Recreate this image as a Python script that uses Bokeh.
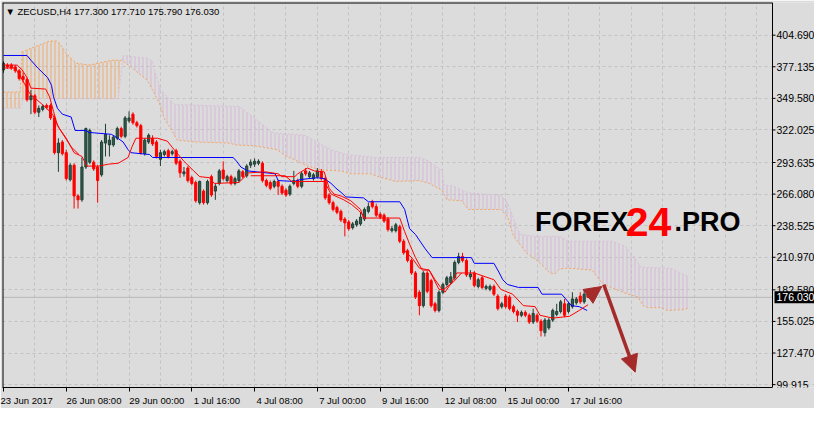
from bokeh.plotting import figure
from bokeh.models import FixedTicker, Label, Arrow, NormalHead, Range1d, ColumnDataSource
from bokeh.core.properties import value
from bokeh.embed import file_html
from bokeh.resources import INLINE

# ---------------- data ----------------
symbol_title = "\u25BC ZECUSD,H4  177.300 177.710 175.790 176.030"
last_price = 176.03
last_price_text = "176.030"

opens = [374.4, 378.6, 378.6, 377.0, 373.6, 368.6, 366.1, 348.4, 351.8, 337.5,
         340.0, 343.4, 343.4, 332.5, 302.2, 311.5, 302.2, 278.7, 291.3, 264.5,
         261.1, 289.7, 293.9, 293.9, 289.7, 282.9, 310.6, 309.0, 309.0, 314.8,
         323.2, 316.5, 330.0, 335.8, 328.3, 325.8, 301.4, 311.5, 314.8, 311.5,
         296.4, 300.6, 303.9, 301.4, 303.9, 294.7, 283.8, 288.8, 280.4, 276.2,
         258.6, 268.7, 258.6, 281.3, 268.7, 275.4, 287.1, 277.9, 281.3, 275.4,
         277.9, 285.5, 282.1, 291.3, 292.2, 293.0, 293.0, 277.9, 276.2, 272.9,
         277.1, 272.9, 269.5, 266.1, 275.4, 277.9, 272.9, 286.3, 281.3, 279.6,
         281.3, 285.5, 279.6, 265.3, 258.6, 254.4, 251.0, 244.3, 241.8, 236.8,
         239.3, 240.1, 244.3, 251.0, 259.4, 255.2, 248.5, 247.7, 244.3, 234.2,
         234.2, 237.6, 225.0, 216.6, 208.2, 197.3, 180.5, 168.8, 197.3, 190.6,
         170.4, 164.6, 180.5, 187.2, 188.9, 193.1, 206.5, 211.6, 208.2, 193.9,
         197.3, 185.5, 193.1, 183.9, 183.0, 185.5, 177.1, 167.9, 177.1, 176.3,
         167.9, 163.7, 160.4, 162.9, 160.4, 154.5, 160.4, 155.3, 145.2, 149.4,
         156.2, 161.2, 163.7, 170.4, 163.7, 167.9, 171.3, 177.1, 172.1, 177.3]
highs = [382.0, 380.3, 380.3, 378.6, 375.3, 371.9, 367.7, 356.8, 353.5, 343.4,
         344.2, 345.1, 345.1, 334.2, 314.8, 313.2, 304.8, 293.0, 293.0, 266.1,
         298.0, 324.1, 323.2, 295.5, 291.3, 313.2, 327.4, 317.4, 317.4, 324.9,
         324.9, 334.2, 338.3, 337.5, 330.0, 327.4, 314.8, 319.0, 317.4, 313.2,
         304.8, 304.8, 305.6, 304.8, 305.6, 296.4, 289.7, 290.5, 282.1, 277.9,
         277.9, 270.3, 278.7, 283.0, 275.4, 288.0, 294.7, 283.0, 283.0, 281.3,
         288.0, 287.1, 292.2, 296.4, 297.2, 296.4, 294.7, 279.6, 277.9, 278.7,
         278.7, 274.5, 271.2, 274.5, 286.3, 279.6, 285.5, 288.8, 286.3, 284.6,
         288.8, 288.0, 281.3, 267.0, 260.3, 256.1, 252.7, 246.0, 243.5, 241.8,
         244.3, 250.2, 254.4, 258.6, 261.1, 257.7, 250.2, 249.3, 246.0, 238.4,
         241.0, 239.3, 226.7, 218.3, 209.9, 198.9, 182.2, 198.9, 198.9, 192.2,
         172.1, 182.2, 188.9, 194.8, 198.1, 208.2, 214.9, 214.9, 209.9, 199.8,
         198.9, 193.1, 194.8, 187.2, 187.2, 187.2, 178.8, 172.1, 178.8, 178.0,
         169.6, 165.4, 164.6, 164.6, 162.0, 166.2, 162.0, 157.0, 157.9, 157.9,
         166.2, 170.4, 173.8, 174.6, 172.1, 180.5, 176.3, 180.5, 182.2, 177.71]
lows = [371.9, 375.3, 374.4, 371.9, 365.2, 363.5, 346.7, 335.8, 335.8, 333.3,
        338.3, 340.0, 330.8, 300.6, 285.5, 299.7, 277.9, 277.1, 253.5, 253.5,
        259.4, 288.0, 292.2, 286.3, 258.6, 281.3, 298.9, 298.9, 307.3, 313.2,
        314.8, 314.8, 328.3, 326.6, 324.1, 300.6, 299.7, 309.8, 308.1, 297.2,
        290.5, 298.9, 297.2, 299.7, 291.3, 280.4, 281.3, 276.2, 273.7, 258.6,
        256.9, 256.9, 256.9, 263.6, 261.1, 273.7, 277.9, 276.2, 273.7, 273.7,
        276.2, 279.6, 280.4, 288.8, 289.7, 291.3, 276.2, 272.0, 269.5, 271.2,
        265.3, 265.3, 263.6, 264.5, 273.7, 271.2, 271.2, 282.1, 279.6, 277.9,
        279.6, 277.9, 261.1, 256.9, 251.0, 248.5, 241.8, 229.2, 234.2, 235.1,
        237.6, 238.4, 242.6, 249.3, 253.5, 246.0, 244.3, 241.0, 233.4, 232.6,
        232.6, 223.3, 213.2, 206.5, 195.6, 174.6, 160.4, 167.1, 179.6, 167.1,
        162.9, 162.9, 178.8, 185.5, 187.2, 191.4, 204.9, 206.5, 193.9, 191.4,
        184.7, 183.9, 183.0, 182.2, 181.3, 177.1, 164.6, 166.2, 166.2, 164.6,
        162.0, 154.5, 158.7, 158.7, 152.8, 152.8, 153.6, 141.9, 141.9, 147.7,
        154.5, 159.5, 162.0, 158.7, 162.0, 166.2, 169.6, 170.4, 170.4, 175.79]
closes = [380.3, 377.0, 376.1, 373.6, 366.9, 366.1, 348.4, 351.8, 337.5, 340.9,
          342.5, 341.7, 332.5, 302.2, 310.6, 301.4, 279.6, 291.3, 264.5, 261.1,
          289.7, 323.2, 321.6, 288.0, 277.9, 311.5, 318.2, 313.2, 315.7, 323.2,
          316.5, 332.5, 332.5, 328.3, 325.8, 302.2, 313.2, 317.4, 309.8, 298.9,
          302.2, 303.1, 298.9, 303.1, 293.0, 284.6, 285.5, 277.9, 275.4, 260.3,
          277.1, 258.6, 277.1, 265.3, 272.9, 286.3, 279.6, 281.3, 275.4, 279.6,
          286.3, 281.3, 290.5, 293.9, 294.7, 294.7, 277.9, 273.7, 271.2, 277.1,
          272.9, 267.0, 265.3, 272.9, 277.9, 272.9, 283.8, 283.8, 284.6, 282.9,
          286.3, 279.6, 262.8, 258.6, 252.7, 250.2, 243.5, 241.0, 235.9, 240.1,
          242.6, 246.0, 252.7, 255.2, 255.2, 247.7, 246.0, 242.6, 235.1, 235.9,
          239.3, 225.0, 214.9, 208.2, 197.3, 176.3, 168.8, 197.3, 181.3, 168.8,
          164.6, 180.5, 187.2, 193.1, 193.9, 206.5, 211.6, 208.2, 195.6, 196.5,
          186.4, 191.4, 184.7, 185.5, 185.5, 178.8, 166.2, 170.4, 167.9, 166.2,
          163.7, 160.4, 162.9, 160.4, 154.5, 162.0, 155.3, 146.9, 156.2, 156.2,
          164.6, 163.7, 172.1, 160.4, 170.4, 174.6, 174.6, 172.1, 178.8, 176.03]

# Kijun-sen (blue)
kijun_bar = [0, 6, 7, 8.75, 11.25, 12.25, 12.75, 13.75, 15, 17.25, 18.25, 21, 21.75, 27.5, 28.75,
             30.5, 31.75, 32.5, 37.25, 38, 58.5, 59.25, 60.5, 62.25, 69.25, 70, 74.25, 75.5, 80,
             81.75, 83.5, 84.75, 86.25, 87.25, 91.75, 93, 101, 102.25, 103.5, 105, 107.5, 109.25,
             119.25, 120, 125, 126.25, 127.25, 128.5, 131.25, 136.25, 137.25, 142.25, 144.75,
             146.75, 148.75]
kijun = [387.0, 387.0, 382.8, 376.1, 367.7, 361.0, 350.9, 340.9, 335.8, 333.3, 321.6, 321.6, 319.9,
         318.2, 315.7, 311.5, 304.8, 302.2, 300.6, 298.0, 298.0, 295.5, 289.7, 286.3, 283.8, 277.9,
         277.1, 278.7, 280.4, 279.6, 275.4, 271.2, 267.0, 263.6, 262.8, 259.4, 259.4, 252.7, 235.9,
         230.9, 218.3, 210.7, 210.7, 205.7, 205.7, 198.1, 191.4, 187.2, 184.7, 184.7, 178.8, 178.8,
         168.8, 167.9, 164.6]

# Tenkan-sen (red)
tenkan_bar = [0, 3.5, 4.75, 6, 7, 10.75, 11.75, 12.75, 13.75, 16, 18, 20, 21.25, 24.25, 26.75, 29.25,
              31.75, 32.75, 33.75, 39.25, 41.75, 43.5, 46, 48.5, 50, 52.5, 53.75, 60, 62.5, 66.75, 70,
              71, 74.25, 75, 77.5, 79.25, 81.75, 83, 84.25, 86, 88.5, 91, 91.75, 101, 102.25, 103.5,
              105, 106.75, 108.5, 110, 111.25, 112.5, 114.25, 115.5, 120, 125, 126.75, 129.75, 132.5,
              135.5, 136.75, 140, 144.25, 146.75, 149]
tenkan = [378.6, 378.6, 374.4, 367.7, 358.5, 357.7, 350.9, 338.3, 325.8, 314.8, 302.2, 298.9, 290.5,
          290.5, 292.2, 293.0, 298.0, 307.3, 314.8, 314.8, 312.3, 304.8, 294.7, 286.3, 281.3, 280.4,
          275.4, 276.2, 284.6, 285.5, 283.8, 281.3, 281.3, 283.8, 288.8, 286.3, 285.5, 271.2, 266.1,
          264.5, 260.3, 252.7, 245.2, 245.2, 233.4, 222.5, 210.7, 199.8, 199.8, 191.4, 185.5, 180.5,
          188.9, 197.3, 197.3, 191.4, 183.0, 178.8, 168.8, 167.9, 160.4, 157.9, 159.5, 164.6, 169.6]

# second red line (gaps where it merges with the first one)
nan = float("nan")
red2_bar = [0, 3, 4.75, 6.75, 10.5, 12.5, 14.25, 17.25, 19.25, 19.5,
            63, 71.75, 73.5, 81.75, 83.5, 86.75, 88.75, 90.5, 92.25, 92.5,
            101.75, 104.25, 106, 108.5, 111, 112.25, 114.75, 116.75]
red2 = [376.1, 376.1, 366.1, 353.5, 342.5, 335.8, 323.2, 307.3, 300.6, nan,
        282.1, 282.1, 277.1, 277.1, 266.1, 261.1, 256.9, 251.9, 245.2, nan,
        218.3, 209.9, 201.5, 199.8, 183.0, 183.0, 189.7, 197.3]

# Senkou span A (sandy brown) and B (thistle), shifted 26 bars ahead
spanA_bar = [0, 4.25, 4.75, 5.5, 11.75, 13.75, 14.75, 16, 18.5, 21.75, 24.25, 27.5, 30, 32.25, 34.25,
             36.75, 38.5, 39.75, 41, 42.5, 44.25, 49.25, 57.5, 59.25, 64.25, 69.75, 71.75, 73.5, 77.5,
             81, 86, 88.5, 93.5, 95.5, 100, 106, 108.5, 111.75, 113, 116.75, 118.5, 126.75, 128.5,
             130, 133.5, 136, 139.25, 140.5, 141.75, 143.5, 150, 152.25, 153, 156, 159.25, 161.75,
             163, 164.25, 167.5, 169.25, 173.5, 174.75]
spanA = [355.1, 355.1, 390.4, 391.2, 399.6, 399.6, 395.4, 388.7, 380.3, 378.6, 380.3, 382.8, 382.8,
         377.8, 371.9, 365.2, 353.5, 345.1, 331.6, 324.1, 313.2, 311.5, 310.6, 309.0, 308.1, 304.8,
         299.7, 297.2, 290.5, 287.1, 286.3, 283.8, 283.8, 281.3, 277.1, 277.9, 275.4, 269.5, 261.1,
         260.3, 252.7, 252.7, 246.0, 229.2, 214.1, 208.2, 197.3, 196.5, 200.7, 201.5, 199.8, 189.7,
         187.2, 183.0, 178.8, 176.3, 168.8, 167.1, 167.1, 164.6, 165.4, 167.1]
spanB_bar = [0, 4.25, 5, 29.25, 30.5, 36.75, 38, 38.5, 40, 41.75, 43.5, 60, 61.75, 64.25, 68.5, 70,
             76.75, 83.5, 87.5, 95, 106, 108.5, 111.75, 112.25, 114.25, 118.5, 126.75, 128.5, 131,
             131.75, 136, 141.75, 144.25, 155, 158.5, 161, 162.5, 170, 174.75]
spanB = [340.9, 340.9, 349.3, 349.3, 387.0, 384.5, 382.0, 373.6, 357.7, 350.9, 344.2, 342.5, 338.3,
         331.6, 319.9, 319.0, 317.4, 304.8, 300.6, 298.0, 298.0, 294.7, 286.3, 273.7, 273.7, 267.0,
         265.3, 258.6, 235.9, 230.9, 229.2, 229.2, 225.0, 225.0, 220.8, 209.9, 202.3, 201.5, 193.9]

tick_bars = [0, 16, 32, 48, 64, 80, 96, 112, 128, 144]
tick_labels = ["23 Jun 2017", "26 Jun 08:00", "29 Jun 00:00", "1 Jul 16:00", "4 Jul 08:00",
               "7 Jul 00:00", "9 Jul 16:00", "12 Jul 08:00", "15 Jul 00:00", "17 Jul 16:00"]
price_ticks = [99.915, 127.470, 155.025, 182.580, 210.970, 238.525, 266.080, 293.635,
               322.025, 349.580, 377.135, 404.690]
price_labels = ["99.915", "127.470", "155.025", "182.580", "210.970", "238.525", "266.080",
                "293.635", "322.025", "349.580", "377.135", "404.690"]

# ---------------- styling / layout ----------------
BG = "#DCDCDC"
GRID = "#C2C2C2"
BULL_FILL = "#2F5E4C"
BULL_LINE = "#203F34"
BEAR = "#FF0000"
ARROW_C = "#A52A2A"
FONT = "Liberation Sans"
NBSP = "\u00A0"

PX_PER_BAR = 770 / 196.25          # chart area 770 px wide
FRAME_W, FRAME_H = 812, 385
X0 = -0.25
XA = 196.0                          # price-scale line
X1 = X0 + FRAME_W / PX_PER_BAR
Y0, Y1 = 97.4, 433.2
PXB = 1 / PX_PER_BAR                # one pixel in bar units

p = figure(frame_width=FRAME_W, frame_height=FRAME_H, x_range=Range1d(X0, X1),
           y_range=Range1d(Y0, Y1), output_backend="svg", toolbar_location=None,
           y_axis_location=None, min_border_left=2, min_border_top=2, min_border_right=0,
           min_border_bottom=20, background_fill_color=BG, border_fill_color=BG,
           outline_line_color=None)

# grids (stop at the price scale)
p.xgrid.ticker = FixedTicker(ticks=list(range(8, 196, 8)))
p.ygrid.ticker = FixedTicker(ticks=price_ticks)
p.ygrid.bounds = (X0, XA)
for g in (p.xgrid, p.ygrid):
    g.grid_line_color = GRID
    g.grid_line_dash = "3 3"
    g.grid_line_width = 1

# time axis (labels start at their tick, as in the terminal)
def left_aligned(i, t):
    return t if i == 0 else NBSP * int(round(len(t) * 1.72)) + t

p.xaxis.ticker = FixedTicker(ticks=tick_bars)
p.xaxis.major_label_overrides = {b: left_aligned(i, t) for i, (b, t) in enumerate(zip(tick_bars, tick_labels))}
p.xaxis.bounds = (X0, XA)
p.xaxis.axis_line_color = "black"
p.xaxis.major_tick_line_color = "black"
p.xaxis.major_tick_in = 0
p.xaxis.major_tick_out = 4
p.xaxis.minor_tick_line_color = None
p.xaxis.major_label_text_font = FONT
p.xaxis.major_label_text_font_size = "9.5px"
p.xaxis.major_label_text_color = "black"
p.xaxis.major_label_standoff = 3

# current price line
p.segment(x0=[X0], y0=[last_price], x1=[XA], y1=[last_price], line_color="#B8B8B8", line_width=1)

# cloud hatching
split_a, split_b = 30.0, 30.5
a_or = [(b, v) for b, v in zip(spanA_bar, spanA) if b <= split_a]
b_or = [(b, v) for b, v in zip(spanB_bar, spanB) if b < split_b]
poly1 = a_or + b_or[::-1]
b_th = [(b, v) for b, v in zip(spanB_bar, spanB) if b >= split_b]
a_th = [(b, v) for b, v in zip(spanA_bar, spanA) if b >= split_a]
poly2 = b_th + a_th[::-1]
p.patch([q[0] for q in poly1], [q[1] for q in poly1], fill_alpha=0, line_color=None,
        hatch_pattern="|", hatch_color="#F4A460", hatch_alpha=0.9, hatch_scale=4, hatch_weight=1)
p.patch([q[0] for q in poly2], [q[1] for q in poly2], fill_alpha=0, line_color=None,
        hatch_pattern="|", hatch_color="#D5B8D5", hatch_alpha=1.0, hatch_scale=4, hatch_weight=1)
p.line(spanA_bar, spanA, line_color="#F4A460", line_width=1, line_dash="2 2")
p.line(spanB_bar, spanB, line_color="#D8BFD8", line_width=1, line_dash="2 2")

# candles
idx = list(range(len(opens)))
bull = [c >= o for o, c in zip(opens, closes)]
src = ColumnDataSource(dict(
    x=idx, o=opens, h=highs, l=lows, c=closes,
    top=[max(o, c) for o, c in zip(opens, closes)],
    bot=[min(o, c) for o, c in zip(opens, closes)],
    fill=[BULL_FILL if b else BEAR for b in bull],
    line=[BULL_LINE if b else BEAR for b in bull]))
p.segment(x0="x", y0="h", x1="x", y1="l", line_color="line", line_width=1, source=src)
p.vbar(x="x", top="top", bottom="bot", width=0.55, fill_color="fill", line_color="line",
       line_width=1, source=src)

# indicator lines
p.line(kijun_bar, kijun, line_color="#0000FF", line_width=1)
p.line(tenkan_bar, tenkan, line_color="#FF0000", line_width=1)
p.line(red2_bar, red2, line_color="#FF0000", line_width=1)

# chart frame: left and top border, price-scale line
p.segment(x0=[X0, X0], y0=[Y0, Y1], x1=[X0, XA], y1=[Y1, Y1], line_color="black", line_width=2)
p.segment(x0=[XA], y0=[Y0], x1=[XA], y1=[Y1], line_color="black", line_width=1)

# price scale (ticks and labels to the right of the chart)
n = len(price_ticks)
p.segment(x0=[XA] * n, y0=price_ticks, x1=[XA + 3 * PXB] * n, y1=price_ticks,
          line_color="black", line_width=1)
p.text(x=[XA + 4 * PXB] * n, y=price_ticks, text=price_labels, text_font=value(FONT),
       text_font_size="10.5px", text_color="black", text_baseline="middle", text_align="left")

# arrows
p.add_layout(Arrow(end=NormalHead(size=17, fill_color=ARROW_C, line_color=ARROW_C),
                   x_start=148.75, y_start=176.3, x_end=152.5, y_end=185.5,
                   line_color=ARROW_C, line_width=3.5))
p.add_layout(Arrow(end=NormalHead(size=17, fill_color=ARROW_C, line_color=ARROW_C),
                   x_start=153.0, y_start=187.2, x_end=161.0, y_end=110.8,
                   line_color=ARROW_C, line_width=3.5))

# texts
p.add_layout(Label(x=0.5, y=430.0, text=symbol_title, text_font=FONT, text_font_size="9.5px",
                   text_color="black", text_baseline="top"))
p.add_layout(Label(x=135.5, y=241.8, text="FOREX", text_font=FONT, text_font_size="27px",
                   text_font_style="bold", text_color="black", text_baseline="alphabetic"))
p.add_layout(Label(x=158.6, y=241.8, text="24", text_font=FONT, text_font_size="41px",
                   text_font_style="bold", text_color="#FF0000", text_baseline="alphabetic"))
p.add_layout(Label(x=171.0, y=241.8, text=".PRO", text_font=FONT, text_font_size="27px",
                   text_font_style="bold", text_color="black", text_baseline="alphabetic"))
p.add_layout(Label(x=XA + 2 * PXB, y=last_price, text=last_price_text, text_font=FONT,
                   text_font_size="10.5px", text_color="white", text_baseline="middle",
                   background_fill_color="black", padding=2))

open("out.html", "w").write(file_html(p, INLINE))
